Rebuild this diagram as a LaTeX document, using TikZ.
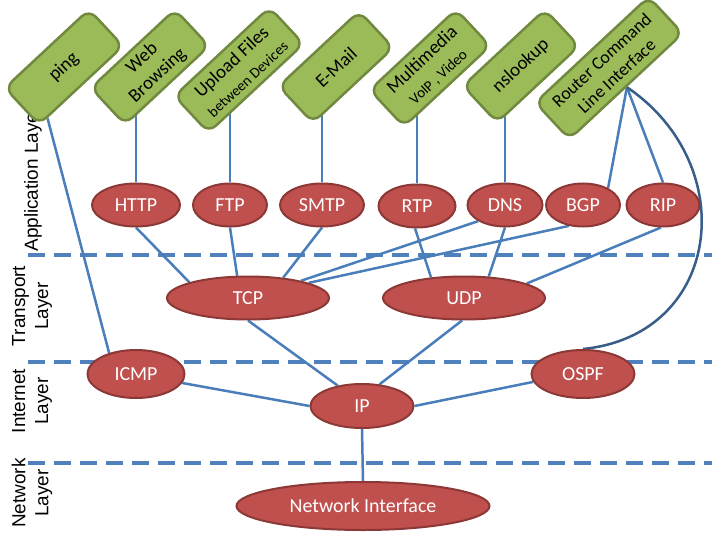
\documentclass[tikz,border=0pt]{standalone}
\usepackage{fontspec}
\setmainfont{Carlito}
\newfontfamily\labelfont{Liberation Sans}
\usetikzlibrary{shapes.geometric,backgrounds,calc}

\definecolor{appfill}{HTML}{9BBB59}
\definecolor{appdraw}{HTML}{71893F}
\definecolor{protofill}{HTML}{C0504D}
\definecolor{protodraw}{HTML}{8C3836}
\definecolor{linkblue}{HTML}{4A7EBB}
\definecolor{dashblue}{HTML}{4F81BD}
\definecolor{curveblue}{HTML}{385D8A}

\tikzset{
  app/.style={rectangle, rounded corners=10bp, draw=appdraw, fill=appfill, line width=2.5bp,
    rotate=43, minimum height=50bp, inner sep=1bp, align=center, font=\fontsize{19}{23}\selectfont},
  proto/.style={ellipse, draw=protodraw, fill=protofill, line width=2bp, text=white,
    minimum height=43bp, inner sep=0pt, font=\fontsize{20}{22}\selectfont},
  link/.style={linkblue, line width=2.5bp},
  layerline/.style={dashblue, line width=3.5bp, dash pattern=on 17bp off 9bp},
  layerlabel/.style={rotate=90, align=center, font=\labelfont\fontsize{19}{23}\selectfont}
}
\newcommand{\subline}[1]{{\fontsize{15}{17}\selectfont #1}}

\begin{document}
\begin{tikzpicture}[x=1bp, y=-1bp]
    \useasboundingbox (0,0) rectangle (720,540);

    % Layer names
    \node[layerlabel] (applbl) at (33,179) {Application Layer};
    \node[layerlabel] (translbl) at (32,306) {Transport\\Layer};
    \node[layerlabel] (inetlbl) at (32,401) {Internet\\Layer};
    \node[layerlabel] (netlbl) at (32,493) {Network\\Layer};

    % Applications
    \node[app, minimum width=115bp] (ping) at (64,67) {ping};
    \node[app, minimum width=115bp] (web) at (150,67) {Web\\Browsing};
    \node[app, minimum width=130bp] (upload) at (239,70) {Upload Files\\\subline{between Devices}};
    \node[app, minimum width=110bp] (email) at (336,67) {E-Mail};
    \node[app, minimum width=118bp] (media) at (430,68) {Multimedia\\\subline{VoIP , Video}};
    \node[app, minimum width=112bp] (nslookup) at (521,66) {nslookup};
    \node[app, minimum width=155bp, font=\fontsize{18}{22}\selectfont] (router) at (609,68) {Router Command\\Line Interface};

    % Application protocols
    \node[proto, minimum width=88bp] (http) at (136,205) {HTTP};
    \node[proto, minimum width=74bp] (ftp) at (230,205) {FTP};
    \node[proto, minimum width=84bp] (smtp) at (322,205) {SMTP};
    \node[proto, minimum width=77bp] (rtp) at (417,206) {RTP};
    \node[proto, minimum width=75bp] (dns) at (505,205) {DNS};
    \node[proto, minimum width=74bp] (bgp) at (583,205) {BGP};
    \node[proto, minimum width=73bp] (rip) at (663,205) {RIP};

    % Transport, internet and network
    \node[proto, minimum width=162bp] (tcp) at (248,298) {TCP};
    \node[proto, minimum width=162bp] (udp) at (464,298) {UDP};
    \node[proto, minimum width=97bp, minimum height=48bp] (icmp) at (136,374) {ICMP};
    \node[proto, minimum width=103bp, minimum height=48bp] (ospf) at (583,374) {OSPF};
    \node[proto, minimum width=103bp, minimum height=44bp] (ip) at (362,406) {IP};
    \node[proto, minimum width=253bp, minimum height=48bp] (netif) at (363,506) {Network Interface};

    \begin{scope}[on background layer]
        % Layer borders
        \draw[layerline] (28,255) -- (712,255);
        \draw[layerline] (28,362) -- (712,362);
        \draw[layerline] (28,463) -- (712,463);

        % Applications to protocols
        \draw[link] (icmp.142) -- ($(ping.south west)!0.1!(ping.south east)$);
        \draw[link] (http) -- (http |- web);
        \draw[link] (ftp) -- (ftp |- upload);
        \draw[link] (smtp) -- (smtp |- email);
        \draw[link] (rtp) -- (rtp |- media);
        \draw[link] (dns) -- (dns |- nslookup);
        \draw[link] (router.south) -- (bgp.34);
        \draw[link] (router.south) -- (rip.north);
        \draw[curveblue, line width=2.5bp] (router.south) .. controls (742,165) and (722,335) .. (ospf.north);

        % Protocols to transport
        \draw[link] (http.south) -- (tcp.165);
        \draw[link] (ftp.south) -- (tcp.116);
        \draw[link] (smtp.south) -- (tcp.30);
        \draw[link] (dns.211) -- (tcp.18);
        \draw[link] (bgp.236) -- (tcp.14);
        \draw[link] (rtp.265) -- (udp.148);
        \draw[link] (dns.south) -- (udp.41);
        \draw[link] (rip.265) -- (udp.13);

        % Down to IP
        \draw[link] (tcp.south) -- (ip.140);
        \draw[link] (udp.265) -- (ip.51);
        \draw[link] (icmp.349) -- (ip.west);
        \draw[link] (ospf.189) -- (ip.east);
        \draw[link] (ip.south) -- (netif.north);
    \end{scope}
\end{tikzpicture}
\end{document}
